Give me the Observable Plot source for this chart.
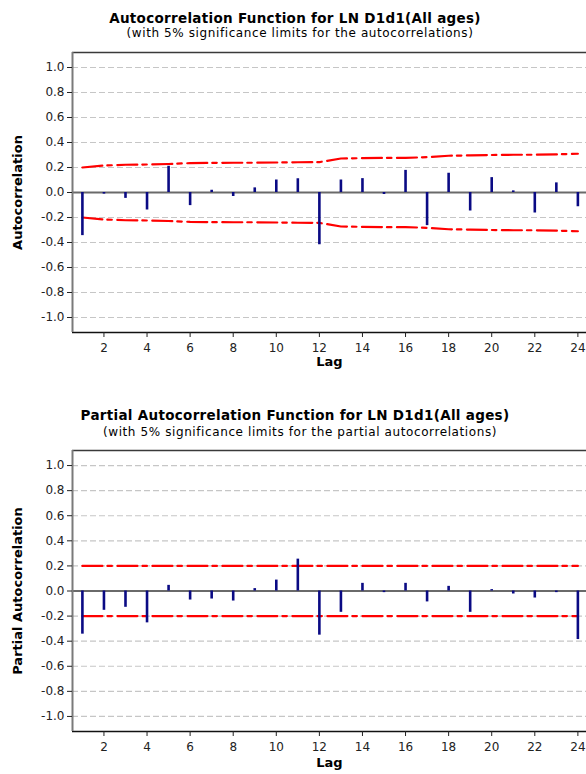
<!DOCTYPE html>
<html>
<head>
<meta charset="utf-8">
<script src="https://cdn.jsdelivr.net/npm/d3@7"></script>
<script src="https://cdn.jsdelivr.net/npm/@observablehq/plot@0.6"></script>
<style>
  html, body { margin: 0; padding: 0; background: #fff; }
  #page { position: relative; width: 586px; height: 774px; overflow: hidden; font-family: "DejaVu Sans", sans-serif; color: #000; }
  .title { position: absolute; left: 0; width: 586px; text-align: center; font-weight: bold; font-size: 13.5px; line-height: 16px; letter-spacing: 0.3px; padding-left: 4px; box-sizing: border-box; }
  .subtitle { position: absolute; left: 0; width: 586px; text-align: center; font-size: 12px; line-height: 14px; letter-spacing: 0.6px; padding-left: 14px; box-sizing: border-box; }
  .panel { position: absolute; left: 0; }
</style>
</head>
<body>
<div id="page">
  <div class="title" style="top:10px">Autocorrelation Function for LN D1d1(All ages)</div>
  <div class="subtitle" style="top:26px">(with 5% significance limits for the autocorrelations)</div>
  <div class="panel" id="acf" style="top:40px"></div>
  <div class="title" style="top:407px">Partial Autocorrelation Function for LN D1d1(All ages)</div>
  <div class="subtitle" style="top:425px">(with 5% significance limits for the partial autocorrelations)</div>
  <div class="panel" id="pacf" style="top:440px"></div>
</div>
<script>
// Lags shown on the horizontal axis
const lags = [1, 2, 3, 4, 5, 6, 7, 8, 9, 10, 11, 12, 13, 14, 15, 16, 17, 18, 19, 20, 21, 22, 23, 24];

// Sample autocorrelations of LN D1d1 (All ages)
const acfValues = [-0.345, -0.013, -0.047, -0.140, 0.210, -0.105, 0.018, -0.032, 0.037, 0.100, 0.110, -0.418,
                   0.100, 0.111, -0.016, 0.177, -0.265, 0.154, -0.148, 0.119, 0.013, -0.164, 0.077, -0.114];

// 5% significance limits for the autocorrelations (upper; the lower limit is its negative)
const acfLimits = [0.200, 0.216, 0.222, 0.224, 0.228, 0.235, 0.237, 0.238, 0.238, 0.240, 0.242, 0.243,
                   0.272, 0.275, 0.277, 0.277, 0.283, 0.294, 0.297, 0.300, 0.302, 0.302, 0.305, 0.310];

// Sample partial autocorrelations
const pacfValues = [-0.344, -0.154, -0.130, -0.254, 0.045, -0.072, -0.064, -0.080, 0.019, 0.087, 0.254, -0.352,
                    -0.170, 0.061, -0.013, 0.061, -0.087, 0.037, -0.170, 0.011, -0.024, -0.056, -0.013, -0.387];

// 5% significance limit for the partial autocorrelations
const pacfLimit = 0.2;

// Axis ticks
const xTicks = [2, 4, 6, 8, 10, 12, 14, 16, 18, 20, 22, 24];
const yTicks = [-1.0, -0.8, -0.6, -0.4, -0.2, 0.0, 0.2, 0.4, 0.6, 0.8, 1.0];

const xDomain = [0.54, 24.4];
const yDomain = [-1.12, 1.12];

function correlogram({values, limits, yLabel, height, marginTop, marginBottom, labelOffset}) {
  const rows = lags.map((lag, i) => ({lag, r: values[i], limit: limits[i]}));
  const dashDot = "20,5,4.5,5.5";
  return Plot.plot({
    width: 586,
    height,
    marginLeft: 72,
    marginRight: 0,
    marginTop,
    marginBottom,
    style: {fontFamily: "DejaVu Sans, sans-serif", fontSize: "12px", color: "#222", background: "#fff", overflow: "visible"},
    x: {domain: xDomain},
    y: {domain: yDomain},
    marks: [
      // dashed horizontal gridlines
      Plot.ruleY(yTicks.filter(v => v !== 0), {stroke: "#c6c6c6", strokeWidth: 1.2, strokeDasharray: "6,3"}),
      // zero reference line
      Plot.ruleY([0], {stroke: "#6a6a6a", strokeWidth: 2}),
      // significance limits
      Plot.line(rows, {x: "lag", y: "limit", stroke: "#ff0000", strokeWidth: 2.2, strokeDasharray: dashDot}),
      Plot.line(rows, {x: "lag", y: d => -d.limit, stroke: "#ff0000", strokeWidth: 2.2, strokeDasharray: dashDot}),
      // correlation spikes
      Plot.ruleX(rows, {x: "lag", y1: 0, y2: "r", stroke: "#0a0a84", strokeWidth: 2.6}),
      // plot frame: top, bottom and left edges
      Plot.ruleY([yDomain[1]], {stroke: "#3a3a3a", strokeWidth: 1.5}),
      Plot.ruleY([yDomain[0]], {stroke: "#111", strokeWidth: 1.5}),
      Plot.ruleX([xDomain[0]], {stroke: "#7a7a7a", strokeWidth: 2}),
      Plot.axisY({ticks: yTicks, tickSize: 5, tickPadding: 3, tickFormat: d => d.toFixed(1), label: null}),
      Plot.axisX({ticks: xTicks, tickSize: 5, tickPadding: 6, label: null}),
      Plot.text([yLabel], {text: d => d, frameAnchor: "left", textAnchor: "middle", dx: -55, rotate: -90, fontWeight: "bold", fontSize: 13, fill: "#000"}),
      Plot.text(["Lag"], {text: d => d, frameAnchor: "bottom", dy: labelOffset, fontWeight: "bold", fontSize: 13, fill: "#000"})
    ]
  });
}

document.getElementById("acf").append(correlogram({
  values: acfValues, limits: acfLimits, yLabel: "Autocorrelation",
  height: 340, marginTop: 12, marginBottom: 48, labelOffset: 33
}));

document.getElementById("pacf").append(correlogram({
  values: pacfValues, limits: lags.map(() => pacfLimit), yLabel: "Partial Autocorrelation",
  height: 334, marginTop: 10, marginBottom: 43, labelOffset: 35
}));
</script>
</body>
</html>
